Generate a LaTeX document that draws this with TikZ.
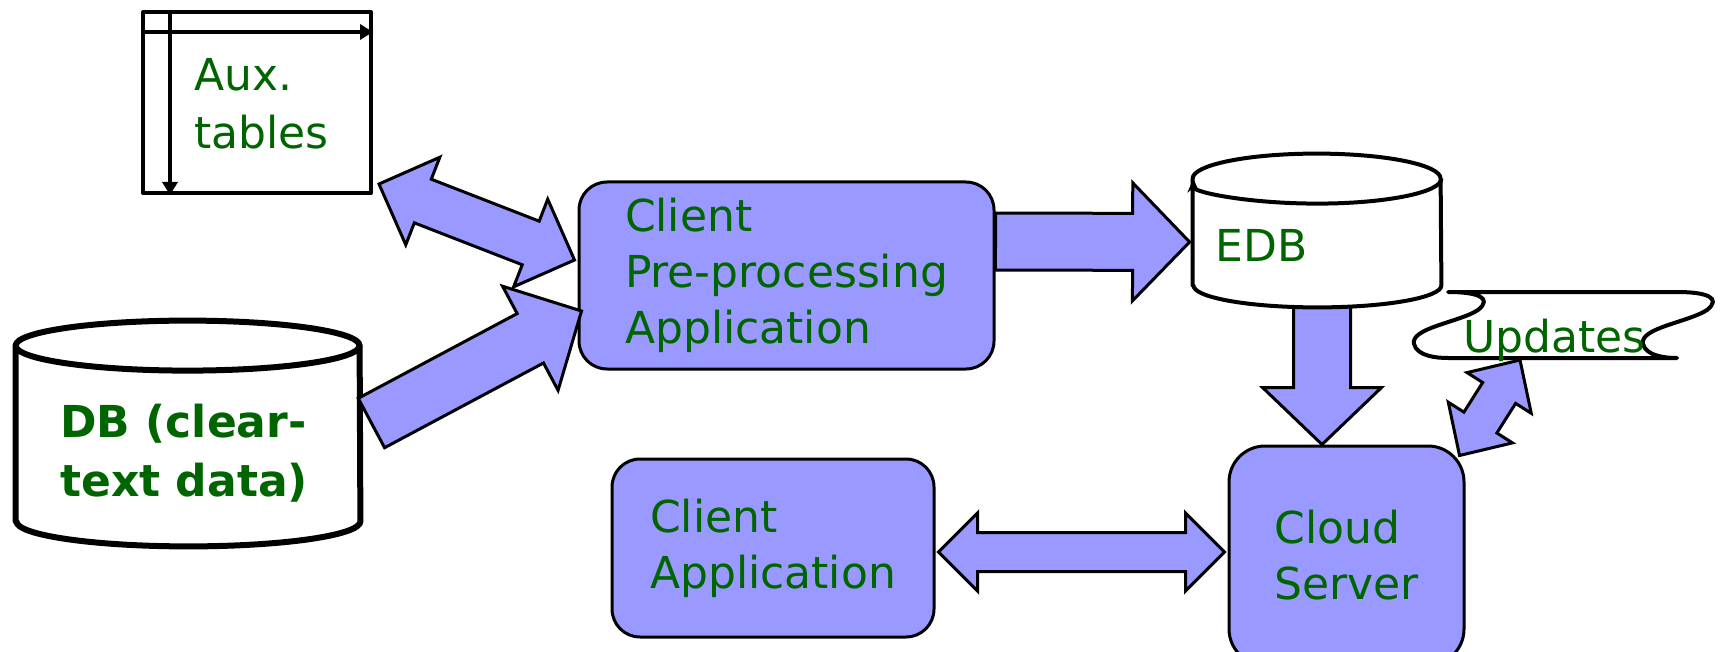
\documentclass[tikz,border=0pt]{standalone}
\usepackage{fontspec}
\setmainfont{DejaVu Sans}
\usetikzlibrary{calc, arrows.meta}

\definecolor{boxblue}{RGB}{153,153,255}
\definecolor{labelgreen}{RGB}{0,100,0}

% block arrow: tail, tip, half shaft, half head, head length
\newcommand{\blockarrow}[5]{%
  \path ($(#2)!#5!(#1)$) coordinate (ba-n);
  \draw[fatarrow] ($(#1)!#3!90:(#2)$) -- ($(ba-n)!#3!-90:(#1)$) -- ($(ba-n)!#4!-90:(#1)$) -- (#2)
    -- ($(ba-n)!#4!90:(#1)$) -- ($(ba-n)!#3!90:(#1)$) -- ($(#1)!#3!-90:(#2)$) -- cycle;}
% block arrow with two heads: tip, tip, half shaft, half head, head length
\newcommand{\blockdarrow}[5]{%
  \path ($(#1)!#5!(#2)$) coordinate (ba-a) ($(#2)!#5!(#1)$) coordinate (ba-b);
  \draw[fatarrow] (#1) -- ($(ba-a)!#4!90:(#2)$) -- ($(ba-a)!#3!90:(#2)$) -- ($(ba-b)!#3!-90:(#1)$)
    -- ($(ba-b)!#4!-90:(#1)$) -- (#2) -- ($(ba-b)!#4!90:(#1)$) -- ($(ba-b)!#3!90:(#1)$)
    -- ($(ba-a)!#3!-90:(#2)$) -- ($(ba-a)!#4!-90:(#2)$) -- cycle;}

\begin{document}
\begin{tikzpicture}[x=0.5pt, y=-0.5pt, line join=round]
        \tikzstyle{procbox} = [rectangle, rounded corners=14pt, draw=black, line width=1.5pt, fill=boxblue, text=labelgreen, align=left, inner sep=0pt, font=\fontsize{22}{28}\selectfont]
        \tikzstyle{tablebox} = [rectangle, draw=black, line width=2pt, inner sep=0pt]
        \tikzstyle{tablearrow} = [line width=2pt, -{Triangle[length=6.5pt, width=7.5pt]}]
        \tikzstyle{frame} = [rectangle, inner sep=0pt]
        \tikzstyle{drum} = [draw=black, fill=white]
        \tikzstyle{greentext} = [text=labelgreen, inner sep=0pt, align=left, font=\fontsize{22}{28}\selectfont]
        \tikzstyle{fatarrow} = [draw=black, line width=1.5pt, fill=boxblue, line join=miter]
        \tikzstyle{tapeline} = [draw=black, line width=2pt]

        \clip (0,0) rectangle (1722,652);

        \node (pre) [procbox, minimum width=207.5pt, minimum height=93.5pt] at (786.5,275.5) {Client\\Pre-processing\\Application};
        \node (capp) [procbox, minimum width=161pt, minimum height=89pt] at (773,548) {Client\\Application};
        \node (cloud) [procbox, rounded corners=18pt, minimum width=117.5pt, minimum height=109.5pt] at (1346.5,555.5) {Cloud\\Server};
        \node (auxtab) [tablebox, minimum width=114pt, minimum height=90.5pt] at (257,102.5) {};
        \node (db) [frame, minimum width=172pt, minimum height=87.5pt] at (188,433.5) {};
        \node (edb) [frame, minimum width=124pt, minimum height=53pt] at (1317,232) {};

        % EDB feeds the server (tail hidden under the drum)
        \coordinate (edbtail) at ($(edb.south)+(5,15)$);
        \coordinate (cloudtip) at ($(cloud.north)+(-24.5,0)$);
        \blockarrow{edbtail}{cloudtip}{14.25pt}{29.75pt}{28.5pt}

        % aux tables
        \draw[tablearrow] ($(auxtab.north west)+(0,22)$) -- ($(auxtab.north east)+(0,22)$);
        \draw[tablearrow] ($(auxtab.north west)+(29,0)$) -- ($(auxtab.south west)+(29,0)$);
        \node (auxtxt) [greentext, font=\fontsize{22}{29}\selectfont, anchor=north west] at (194,58) {Aux.\\tables};

        % clear-text database
        \draw[drum, line width=3pt] (db.south west) -- (db.north west) arc[start angle=180, end angle=0, x radius=86pt, y radius=12.5pt]
            -- (db.south east) arc[start angle=0, end angle=-180, x radius=86pt, y radius=12.5pt] -- cycle;
        \draw[line width=3pt] (db.north west) arc[start angle=180, end angle=360, x radius=86pt, y radius=12.5pt];
        \node (dbtxt) [greentext, font=\bfseries\fontsize{22}{29.5}\selectfont, anchor=north west] at (60,404) {DB (clear-\\text data)};

        % encrypted database
        \draw[drum, line width=2pt] (edb.south west) -- (edb.north west) arc[start angle=180, end angle=0, x radius=62pt, y radius=12.5pt]
            -- (edb.south east) arc[start angle=0, end angle=-180, x radius=62pt, y radius=11pt] -- cycle;
        \draw[line width=2pt, -{Stealth[length=7pt, width=6pt]}] (edb.north east) arc[start angle=0, end angle=-180, x radius=62pt, y radius=12.5pt];
        \node (edbtxt) [greentext, anchor=base west] at (1215,262) {EDB};

        % block arrows
        \coordinate (auxend) at ($(auxtab.south east)+(6,-11)$);
        \coordinate (preend) at ($(pre.west)+(-3,-15.5)$);
        \blockdarrow{auxend}{preend}{11.7pt}{23.5pt}{23.5pt}

        \coordinate (dbtail) at ($(db.east)+(11,-10.5)$);
        \coordinate (dbtip) at ($(pre.west)+(4,35.5)$);
        \blockarrow{dbtail}{dbtip}{14pt}{29.5pt}{29pt}

        \coordinate (pretail) at ($(pre.east)+(0,-34)$);
        \coordinate (edbtip) at ($(edb.west)+(-3,10)$);
        \blockarrow{pretail}{edbtip}{14.25pt}{29.5pt}{28.5pt}

        \coordinate (cappend) at ($(capp.east)+(3,4)$);
        \coordinate (cloudend) at ($(cloud.west)+(-3,-3.5)$);
        \blockdarrow{cappend}{cloudend}{9.75pt}{19.5pt}{19.5pt}

        % updates tape
        \node (upd) [greentext, anchor=base west] at (1463,352) {};
        \coordinate (cloudcorner) at ($(cloud.north east)+(-6,11)$);
        \coordinate (updend) at ($(upd.base west)+(57,8)$);
        \blockdarrow{cloudcorner}{updend}{9.75pt}{19pt}{19.5pt}

        \draw[tapeline] (1448,292) -- (1677,292)
            .. controls (1707,292) and (1722,298) .. (1707,310)
            .. controls (1689,322) and (1639,328) .. (1643,344)
            .. controls (1646,356) and (1665,358) .. (1677,358)
            -- (1448,358)
            .. controls (1436,358) and (1417,356) .. (1414,344)
            .. controls (1410,328) and (1460,322) .. (1478,310)
            .. controls (1493,298) and (1478,292) .. (1448,292) -- cycle;
        \node [greentext, anchor=base west] at (upd.base west) {Updates};
\end{tikzpicture}
\end{document}
